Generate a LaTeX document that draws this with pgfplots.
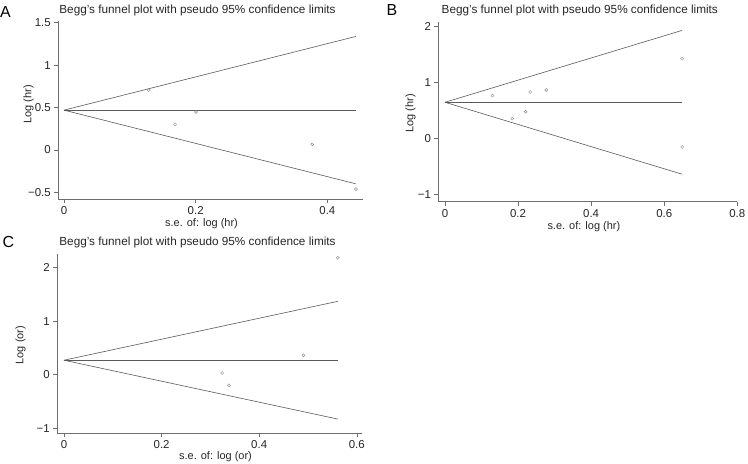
\documentclass[border=0pt]{standalone}
\usepackage{pgfplots}
\pgfplotsset{compat=1.18}
\usepackage{fontspec}
\setmainfont{Liberation Sans}
\definecolor{axgray}{HTML}{6E6E6E}
\definecolor{lngray}{HTML}{5A5A5A}
\definecolor{mkgray}{HTML}{8A8A8A}
\pgfplotsset{funnel/.style={
  scale only axis, axis lines*=left, tick align=outside, major tick length=4bp,
  axis line style={axgray, line width=0.6bp},
  tick style={axgray, line width=0.6bp},
  every tick label/.append style={font=\fontsize{11.5}{13}\selectfont, text=black!85},
  label style={font=\fontsize{11}{13}\selectfont, text=black!85},
  /pgf/number format/assume math mode=true,
  clip=false, anchor=south west,
},
fline/.style={draw=lngray, line width=0.6bp, no marks},
fpts/.style={only marks, mark=o, mark size=1.5bp, mark options={draw=mkgray, line width=0.45bp}},
}
\begin{document}
\begin{tikzpicture}
\path[use as bounding box] (0,0) rectangle (748bp,464bp);
% Panel A
\begin{axis}[funnel, at={(58.3bp,265bp)}, width=304.4bp, height=178.3bp,
  xmin=-0.0087, xmax=0.4537, ymin=-0.577, ymax=1.524,
  xtick={0,0.2,0.4}, xticklabels={0,0.2,0.4},
  ytick={-0.5,0,0.5,1,1.5}, yticklabels={−0.5,0,0.5,1,1.5},
  xlabel={s.e. of: log (hr)}, ylabel={Log (hr)},
  xlabel style={at={([xshift=-9bp,yshift=-27.7bp]axis description cs:0.5,0)}, anchor=base},
  ylabel style={at={([xshift=-27bp,yshift=5.7bp]axis description cs:0,0.5)}, anchor=base}]
\addplot[fline] coordinates {(0,0.47) (0.4436,0.47)};
\addplot[fline] coordinates {(0,0.47) (0.4436,1.339)};
\addplot[fline] coordinates {(0,0.47) (0.4436,-0.399)};
\addplot[fpts] coordinates {(0.1286,0.707) (0.1686,0.302) (0.2005,0.448) (0.377,0.067) (0.4435,-0.46)};
\end{axis}
% Panel B
\begin{axis}[funnel, at={(438.4bp,262.3bp)}, width=298.9bp, height=180bp,
  xmin=-0.018, xmax=0.8, ymin=-1.13, ymax=2.08,
  xtick={0,0.2,0.4,0.6,0.8}, xticklabels={0,0.2,0.4,0.6,0.8},
  ytick={-1,0,1,2}, yticklabels={−1,0,1,2},
  xlabel={s.e. of: log (hr)}, ylabel={Log (hr)},
  xlabel style={at={([xshift=-4bp,yshift=-28bp]axis description cs:0.5,0)}, anchor=base},
  ylabel style={at={([xshift=-25bp,yshift=-1.6bp]axis description cs:0,0.5)}, anchor=base}]
\addplot[fline] coordinates {(0,0.643) (0.649,0.643)};
\addplot[fline] coordinates {(0,0.643) (0.649,1.925)};
\addplot[fline] coordinates {(0,0.643) (0.649,-0.64)};
\addplot[fpts] coordinates {(0.130,0.761) (0.184,0.351) (0.2205,0.475) (0.233,0.826) (0.277,0.862) (0.649,1.42) (0.649,-0.155)};
\end{axis}
% Panel C
\begin{axis}[funnel, at={(57.3bp,31bp)}, width=304.4bp, height=179.3bp,
  xmin=-0.0137, xmax=0.61, ymin=-1.09, ymax=2.26,
  xtick={0,0.2,0.4,0.6}, xticklabels={0,0.2,0.4,0.6},
  ytick={-1,0,1,2}, yticklabels={−1,0,1,2},
  xlabel={s.e. of: log (or)}, ylabel={Log (or)},
  xlabel style={at={([xshift=6bp,yshift=-26.7bp]axis description cs:0.5,0)}, anchor=base},
  ylabel style={at={([xshift=-34bp,yshift=-1.7bp]axis description cs:0,0.5)}, anchor=base}]
\addplot[fline] coordinates {(0,0.27) (0.561,0.27)};
\addplot[fline] coordinates {(0,0.27) (0.561,1.37)};
\addplot[fline] coordinates {(0,0.27) (0.561,-0.83)};
\addplot[fpts] coordinates {(0.324,0.031) (0.338,-0.2) (0.4906,0.362) (0.561,2.183)};
\end{axis}
% titles
\node[anchor=base, font=\fontsize{11.8}{13}\selectfont, text=black!85] at (197.5bp,450.7bp) {Begg’s funnel plot with pseudo 95\% confidence limits};
\node[anchor=base, font=\fontsize{11.8}{13}\selectfont, text=black!85] at (579.8bp,450bp) {Begg’s funnel plot with pseudo 95\% confidence limits};
\node[anchor=base, font=\fontsize{11.8}{13}\selectfont, text=black!85] at (197.5bp,218.7bp) {Begg's funnel plot with pseudo 95\% confidence limits};
% panel letters
\node[anchor=base west, inner sep=0pt, font=\fontsize{16}{18}\selectfont] at (0bp,446.7bp) {A};
\node[anchor=base west, inner sep=0pt, font=\fontsize{16}{18}\selectfont] at (386.5bp,448bp) {B};
\node[anchor=base west, inner sep=0pt, font=\fontsize{16}{18}\selectfont] at (2.5bp,216bp) {C};
\end{tikzpicture}
\end{document}
